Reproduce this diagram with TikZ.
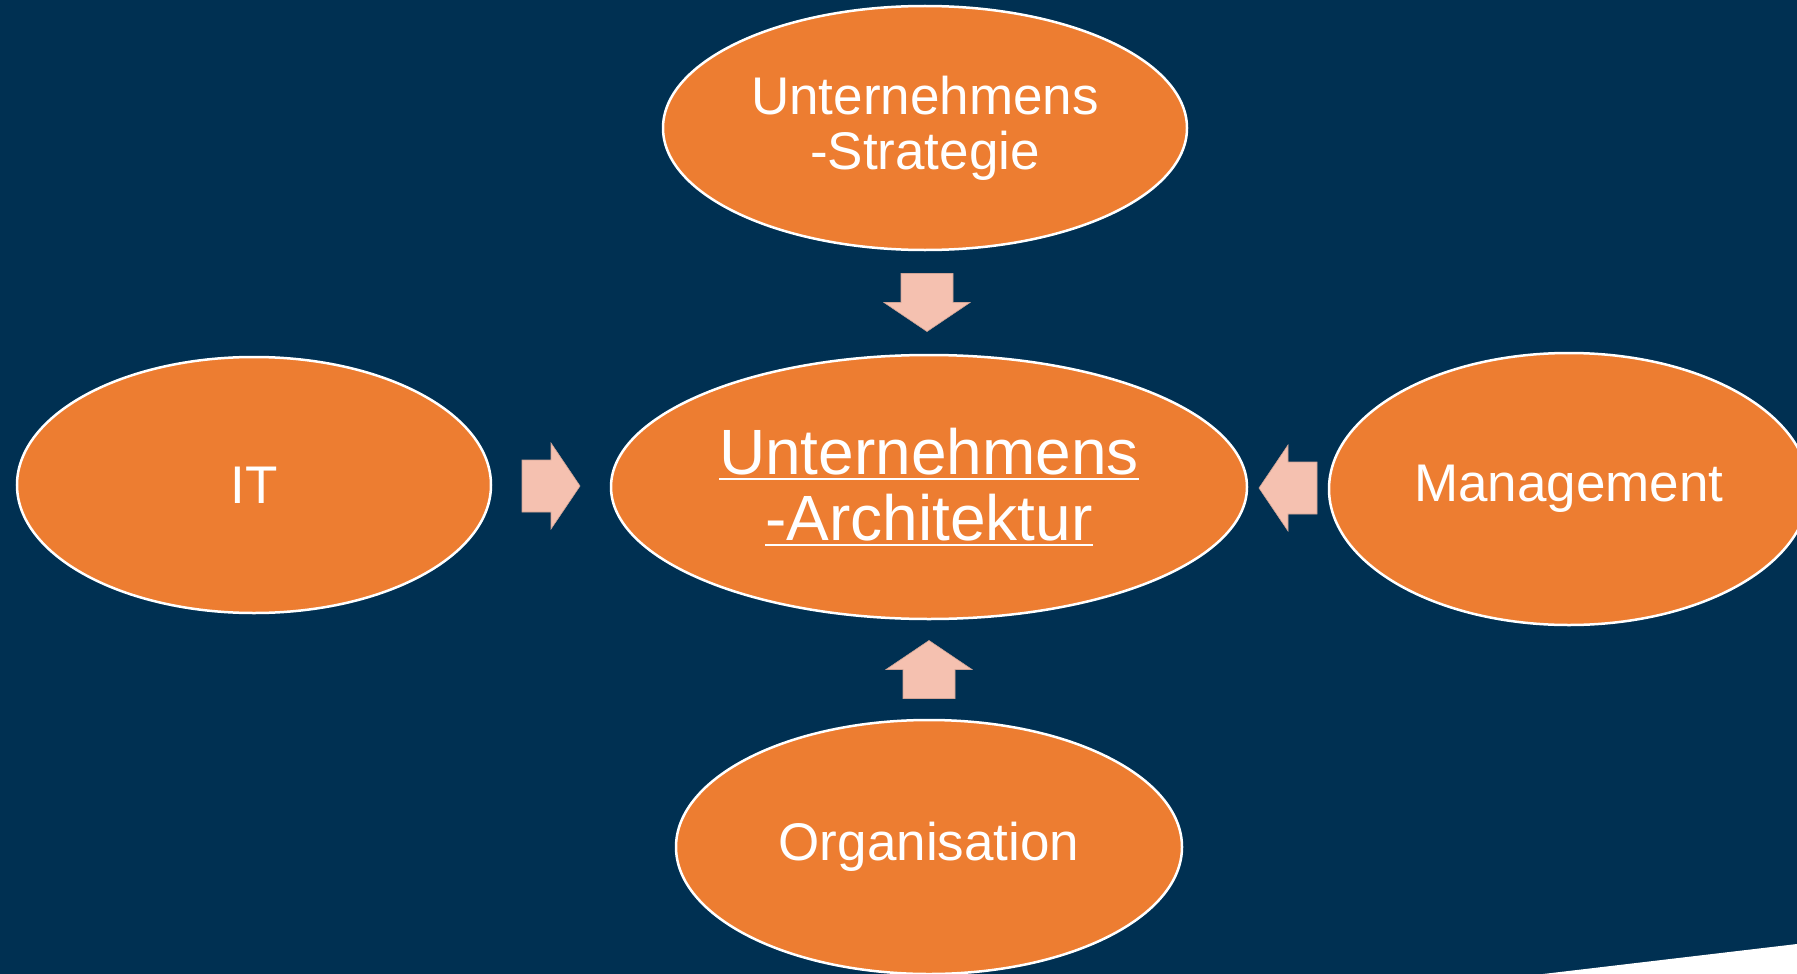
\documentclass[tikz,border=0pt]{standalone}
\usepackage{fontspec}
\setmainfont{Liberation Sans}
\usetikzlibrary{shapes.geometric,calc}
\definecolor{navy}{RGB}{0,48,82}
\definecolor{blobfill}{RGB}{237,125,49}
\definecolor{peach}{RGB}{245,193,176}
\newcommand\ulline[1]{\setbox0\hbox{#1}\rlap{\rule[-6pt]{\wd0}{2pt}}\box0}

\begin{document}
\begin{tikzpicture}[x=1pt,y=-1pt,
		blob/.style={ellipse,draw=white,line width=2.5pt,fill=blobfill,text=white,align=center,inner sep=0pt,font=\fontsize{53}{55}\selectfont},
		blockarrow/.pic={\filldraw[fill=peach,draw=peach!85!black,line width=0.6pt] (-29,-26) -- (0,-26) -- (0,-43) -- (29,0) -- (0,43) -- (0,26) -- (-29,26) -- cycle;}]
		\useasboundingbox (0,0) rectangle (1797,974);
		\fill[navy] (0,0) rectangle (1797,974);
		\clip (0,0) rectangle (1797,974);
		\node[blob,minimum width=524,minimum height=244] (strat) at (925,128) {Unternehmens\\-Strategie};
		\node[blob,minimum width=636,minimum height=264,font=\fontsize{64}{66}\selectfont] (arch) at (929,487) {\ulline{Unternehmens}\\\ulline{-Architektur}};
		\node[blob,minimum width=474,minimum height=256] (it) at (254,485) {IT};
		\node[blob,minimum width=480,minimum height=272] (mgmt) at (1569,489) {Management};
		\node[blob,minimum width=506,minimum height=254] (org) at (929,847) {Organisation};
		\pic[rotate=-90] at ($(strat.south)!0.5!(arch.north)$) {blockarrow};
		\pic[rotate=90] at ($(org.north)!0.5!(arch.south)$) {blockarrow};
		\pic at ($(it.east)!0.5!(arch.west)$) {blockarrow};
		\pic[rotate=180] at ($(mgmt.west)!0.5!(arch.east)$) {blockarrow};
		\fill[white] (1543,974) -- (1797,944) -- (1797,974) -- cycle;
	\end{tikzpicture}
\end{document}
